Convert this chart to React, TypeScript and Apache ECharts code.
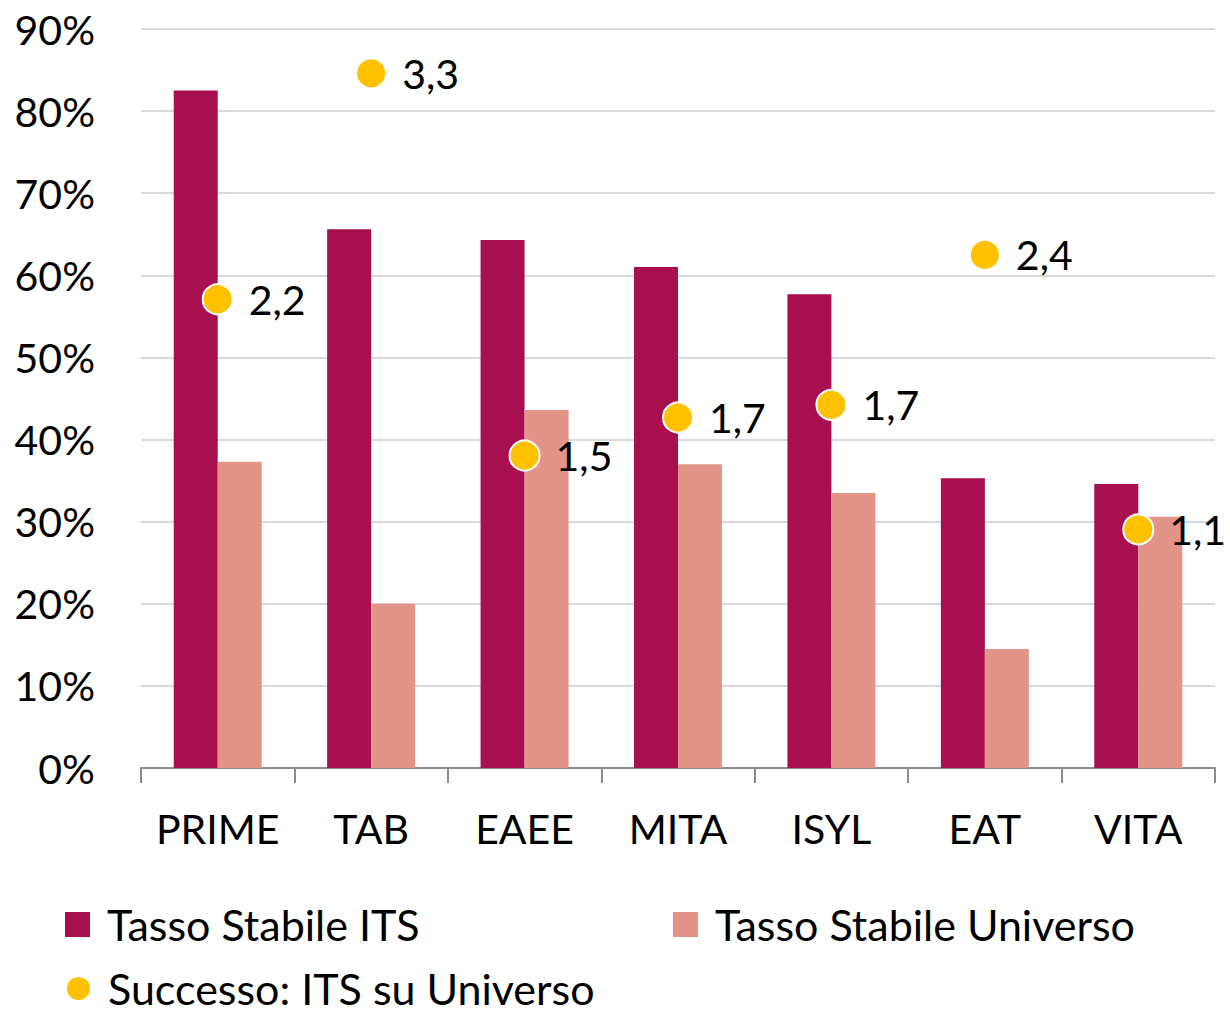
import React, { useEffect, useRef } from "react";
import * as echarts from "echarts";

const categories = ["PRIME", "TAB", "EAEE", "MITA", "ISYL", "EAT", "VITA"];
const tassoITS = [82.5, 65.6, 64.3, 61.0, 57.7, 35.3, 34.6];
const tassoUniverso = [37.3, 20.0, 43.6, 37.0, 33.5, 14.5, 30.6];
const successo = [2.22, 3.29, 1.48, 1.66, 1.72, 2.43, 1.13];
const yTicks = [0, 10, 20, 30, 40, 50, 60, 70, 80, 90];

const FONT = "Lato";
const FS = 41;

export default function App() {
  const ref = useRef<HTMLDivElement>(null);
  useEffect(() => {
    const chart = echarts.init(ref.current!, null, { renderer: "svg" });
    const legendText = {
      fontSize: 43,
      lineHeight: 42,
      color: "#000",
      fontFamily: FONT,
      padding: [0, 0, 0, 12],
    };
    chart.setOption({
      animation: false,
      textStyle: { fontFamily: FONT },
      grid: { left: 141, right: 15, top: 29, bottom: 241, containLabel: false },
      xAxis: {
        type: "category",
        data: categories,
        axisLine: { lineStyle: { color: "#8c8c8c", width: 2 } },
        axisTick: { show: true, length: 15, lineStyle: { color: "#8c8c8c", width: 2 } },
        axisLabel: { fontSize: FS, color: "#000", margin: 40, fontFamily: FONT, interval: 0 },
      },
      yAxis: [
        {
          type: "value",
          min: yTicks[0],
          max: yTicks[yTicks.length - 1],
          interval: 10,
          axisLine: { show: false },
          axisTick: { show: false },
          splitLine: { lineStyle: { color: "#d9d9d9", width: 2 } },
          axisLabel: {
            fontSize: FS,
            color: "#000",
            margin: 46,
            fontFamily: FONT,
            formatter: (v: number) => `${v}%`,
          },
        },
        { type: "value", min: 0, max: 3.5, show: false, splitLine: { show: false } },
      ],
      legend: [
        {
          data: ["Tasso Stabile ITS"],
          left: 65,
          top: 903,
          padding: 0,
          icon: "rect",
          itemWidth: 25,
          itemHeight: 25,
          textStyle: legendText,
        },
        {
          data: ["Tasso Stabile Universo"],
          left: 673,
          top: 903,
          padding: 0,
          icon: "rect",
          itemWidth: 25,
          itemHeight: 25,
          textStyle: legendText,
        },
        {
          data: ["Successo: ITS su Universo"],
          left: 65,
          top: 967,
          padding: 0,
          icon: "circle",
          itemWidth: 25,
          itemHeight: 25,
          textStyle: legendText,
        },
      ],
      series: [
        {
          name: "Tasso Stabile ITS",
          type: "bar",
          data: tassoITS,
          barWidth: 44,
          barGap: "0%",
          itemStyle: { color: "#A80F4F" },
        },
        {
          name: "Tasso Stabile Universo",
          type: "bar",
          data: tassoUniverso,
          barWidth: 44,
          barGap: "0%",
          itemStyle: { color: "#E39489" },
        },
        {
          name: "Successo: ITS su Universo",
          type: "scatter",
          yAxisIndex: 1,
          data: successo,
          symbolSize: 30,
          itemStyle: { color: "#FFC000", borderColor: "#fff", borderWidth: 2, opacity: 1 },
          label: {
            show: true,
            position: "right",
            distance: 15,
            fontSize: FS,
            color: "#000",
            fontFamily: FONT,
            formatter: (p: any) => p.value.toFixed(1).replace(".", ","),
          },
          z: 5,
        },
      ],
    });
    return () => chart.dispose();
  }, []);
  return (
    <div
      ref={ref}
      style={{ position: "fixed", left: 0, top: 0, width: 1230, height: 1009, background: "#fff" }}
    />
  );
}
